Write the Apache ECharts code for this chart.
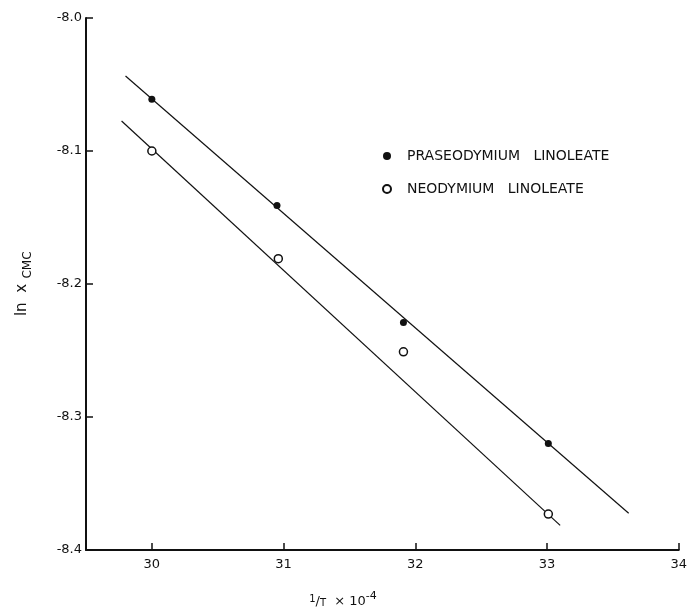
<!DOCTYPE html>
<html>
<head>
<meta charset="utf-8">
<script src="https://cdn.jsdelivr.net/npm/echarts@6/dist/echarts.min.js"></script>
<style>
  html, body { margin: 0; padding: 0; background: #fff; }
  #chart { width: 690px; height: 611px; }
</style>
</head>
<body>
<div id="chart"></div>
<script>
// data
var praX = [30.0, 30.95, 31.91, 33.01];
var praY = [-8.061, -8.141, -8.229, -8.320];
var ndX = [30.0, 30.96, 31.91, 33.01];
var ndY = [-8.100, -8.181, -8.251, -8.373];
// fitted straight lines (end points as drawn)
var praFitX = [29.8, 33.62];
var praFitY = [-8.0436, -8.3724];
var ndFitX = [29.77, 33.1];
var ndFitY = [-8.0774, -8.3815];
// tick labels
var xTicks = [30, 31, 32, 33, 34];

function pairs(xs, ys) {
    return xs.map(function (x, i) { return [x, ys[i]]; });
}

var font = 'DejaVu Sans';
var ink = '#111';

var myChart = echarts.init(document.getElementById('chart'));
var option = {
    animation: false,
    grid: { left: 86, right: 11, top: 18, bottom: 61, containLabel: false },
    xAxis: {
        type: 'value',
        min: 29.5,
        max: 34,
        splitLine: { show: false },
        axisLine: { lineStyle: { color: ink, width: 2 } },
        axisTick: { show: true, inside: true, length: 7, lineStyle: { color: ink, width: 1.5 } },
        axisLabel: {
            margin: 8, color: ink, fontSize: 13, fontFamily: font,
            formatter: function (v) { return xTicks.indexOf(v) >= 0 ? String(v) : ''; }
        }
    },
    yAxis: {
        type: 'value',
        min: -8.4,
        max: -8.0,
        interval: 0.1,
        splitLine: { show: false },
        axisLine: { lineStyle: { color: ink, width: 2 } },
        axisTick: { show: true, inside: true, length: 7, lineStyle: { color: ink, width: 1.5 } },
        axisLabel: {
            margin: 4, color: ink, fontSize: 13, fontFamily: font,
            formatter: function (v) { return v.toFixed(1); }
        }
    },
    legend: {
        orient: 'vertical',
        left: 377,
        top: 144,
        itemGap: 19,
        itemWidth: 8,
        itemHeight: 8,
        data: ['PRASEODYMIUM   LINOLEATE', 'NEODYMIUM   LINOLEATE'],
        textStyle: { color: ink, fontSize: 14, fontFamily: font, padding: [0, 0, 0, 11] }
    },
    graphic: [
        {
            type: 'text', x: 22, y: 300, rotation: Math.PI / 2,
            style: { text: 'ln  x', fontSize: 15, fontFamily: font, fill: ink, align: 'center', verticalAlign: 'middle' }
        },
        {
            type: 'text', x: 28, y: 265, rotation: Math.PI / 2,
            style: { text: 'CMC', fontSize: 12, fontFamily: font, fill: ink, align: 'center', verticalAlign: 'middle' }
        },
        {
            type: 'text', x: 343, y: 598,
            style: {
                text: '{up|1}{m|/}{lo|T}{m|  × 10}{sup|-4}',
                align: 'center', verticalAlign: 'middle', fill: ink,
                rich: {
                    up: { fontSize: 10, fontFamily: font, verticalAlign: 'bottom', lineHeight: 20, padding: [0, 0, 4, 0] },
                    m: { fontSize: 13, fontFamily: font, verticalAlign: 'bottom', lineHeight: 20 },
                    lo: { fontSize: 10, fontFamily: font, verticalAlign: 'bottom', lineHeight: 20 },
                    sup: { fontSize: 11, fontFamily: font, verticalAlign: 'bottom', lineHeight: 20, padding: [0, 0, 6, 0] }
                }
            }
        }
    ],
    series: [
        {
            name: 'praFit', type: 'line', data: pairs(praFitX, praFitY),
            symbol: 'none', silent: true,
            lineStyle: { color: ink, width: 1.2 }
        },
        {
            name: 'ndFit', type: 'line', data: pairs(ndFitX, ndFitY),
            symbol: 'none', silent: true,
            lineStyle: { color: ink, width: 1.2 }
        },
        {
            name: 'PRASEODYMIUM   LINOLEATE', type: 'scatter', data: pairs(praX, praY),
            symbol: 'circle', symbolSize: 7, z: 5,
            itemStyle: { color: ink, opacity: 1 }
        },
        {
            name: 'NEODYMIUM   LINOLEATE', type: 'scatter', data: pairs(ndX, ndY),
            symbol: 'circle', symbolSize: 8, z: 5,
            itemStyle: { color: '#fff', borderColor: ink, borderWidth: 1.5, opacity: 1 }
        }
    ]
};
myChart.setOption(option);
</script>
</body>
</html>
